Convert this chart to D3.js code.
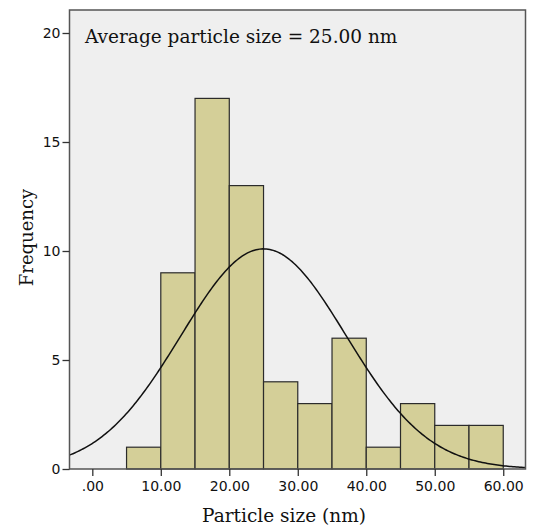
<!DOCTYPE html>
<html>
<head>
<meta charset="utf-8">
<script src="https://cdn.jsdelivr.net/npm/d3@7"></script>
<style>
  body { margin: 0; background: #fff; }
  svg text { fill: #111; }
</style>
</head>
<body>
<div id="chart"></div>
<script>
// Histogram bins (nm) and counts
const binStarts = [5, 10, 15, 20, 25, 30, 35, 40, 45, 50, 55];
const binCounts = [1, 9, 17, 13, 4, 3, 6, 1, 3, 2, 2];
const binWidth = 5;
const xTicks = [0, 10, 20, 30, 40, 50, 60];
const yTicks = [0, 5, 10, 15, 20];
const meanSize = 25.0;
const stdDev = 12.05;

const width = 533, height = 531;
const plot = {left: 69.5, top: 10, right: 525.5, bottom: 469};

const svg = d3.select('#chart')
    .append('svg')
    .attr('width', width)
    .attr('height', height);

const x = d3.scaleLinear().domain([-3.33, 63.25]).range([plot.left, plot.right]);
const y = d3.scaleLinear().domain([0, 20]).range([plot.bottom, plot.bottom - 20 * 21.8]);

// plot background
svg.append('rect')
    .attr('x', plot.left).attr('y', plot.top)
    .attr('width', plot.right - plot.left)
    .attr('height', plot.bottom - plot.top)
    .attr('fill', '#efefef');

// bars
svg.append('g')
    .selectAll('rect')
    .data(binStarts.map((s, i) => ({start: s, count: binCounts[i]})))
    .join('rect')
    .attr('x', d => x(d.start))
    .attr('y', d => y(d.count))
    .attr('width', d => x(d.start + binWidth) - x(d.start))
    .attr('height', d => y(0) - y(d.count))
    .attr('fill', '#d4cf98')
    .attr('stroke', '#2b2b2b')
    .attr('stroke-width', 1.2);

// normal curve
const total = d3.sum(binCounts);
const curvePts = d3.range(-3.33, 63.26, 0.25).map(v => [v,
    total * binWidth / (stdDev * Math.sqrt(2 * Math.PI)) *
    Math.exp(-0.5 * Math.pow((v - meanSize) / stdDev, 2))]);
svg.append('path')
    .datum(curvePts)
    .attr('fill', 'none')
    .attr('stroke', '#111')
    .attr('stroke-width', 1.5)
    .attr('d', d3.line().x(d => x(d[0])).y(d => y(d[1])));

// frame
svg.append('rect')
    .attr('x', plot.left).attr('y', plot.top)
    .attr('width', plot.right - plot.left)
    .attr('height', plot.bottom - plot.top)
    .attr('fill', 'none')
    .attr('stroke', '#555')
    .attr('stroke-width', 1.5);

// axes
const xAxis = svg.append('g')
    .attr('transform', `translate(0,${plot.bottom})`)
    .call(d3.axisBottom(x).tickValues(xTicks).tickSize(7).tickPadding(5)
        .tickFormat(d => d === 0 ? '.00' : d3.format('.2f')(d)));
const yAxis = svg.append('g')
    .attr('transform', `translate(${plot.left},0)`)
    .call(d3.axisLeft(y).tickValues(yTicks).tickSize(7).tickPadding(2));

[xAxis, yAxis].forEach(g => {
    g.select('.domain').remove();
    g.selectAll('line').attr('stroke', '#333').attr('stroke-width', 1.3);
    g.selectAll('text')
        .attr('fill', '#222')
        .style('font-family', '"DejaVu Sans", sans-serif')
        .style('font-size', '14px');
});

// annotation
svg.append('text')
    .attr('x', 85).attr('y', 43)
    .style('font-family', '"DejaVu Serif", serif')
    .style('font-size', '18.5px')
    .text('Average particle size = 25.00 nm');

// axis titles
svg.append('text')
    .attr('x', 284)
    .attr('y', 522)
    .attr('text-anchor', 'middle')
    .style('font-family', '"DejaVu Serif", serif')
    .style('font-size', '18.5px')
    .text('Particle size (nm)');

svg.append('text')
    .attr('transform', `translate(33,${(plot.top + plot.bottom) / 2 - 2}) rotate(-90)`)
    .attr('text-anchor', 'middle')
    .style('font-family', '"DejaVu Serif", serif')
    .style('font-size', '18px')
    .text('Frequency');
</script>
</body>
</html>
